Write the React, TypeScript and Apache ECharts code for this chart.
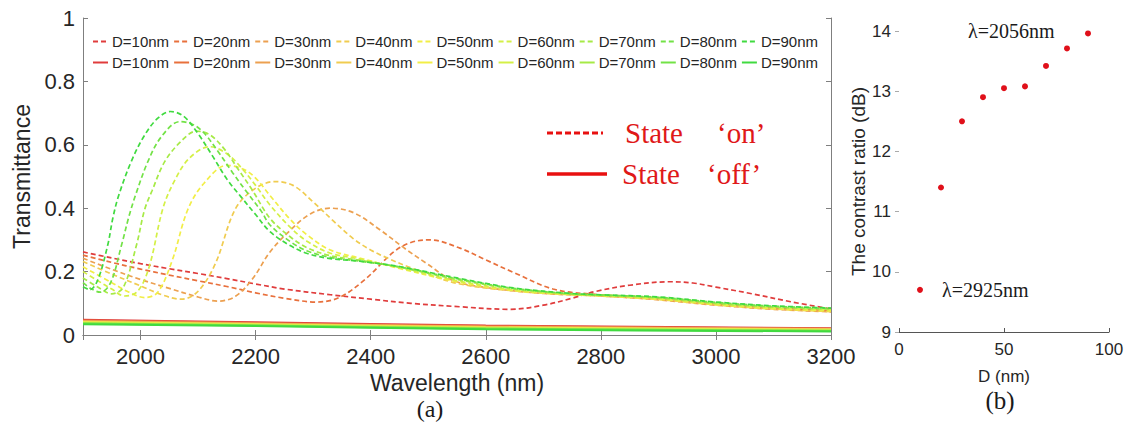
import React, { useEffect, useRef } from "react";
import * as echarts from "echarts";

// ---------- data ----------
const diameters = [10, 20, 30, 40, 50, 60, 70, 80, 90];
const seriesColors = ["#e03c3c", "#e8703c", "#eca050", "#f0cc50", "#f2ee46", "#d4f046", "#a6ea46", "#72e246", "#40da40"];

// State 'on' transmittance curves, [wavelength nm, T]
const onD10 = [[1900,0.262],[1950,0.243],[2000,0.225],[2050,0.209],[2100,0.194],[2150,0.178],[2200,0.161],[2250,0.145],[2330,0.127],[2400,0.113],[2470,0.100],[2555,0.089],[2642,0.081],[2700,0.094],[2750,0.116],[2790,0.137],[2850,0.157],[2920,0.168],[2960,0.164],[3000,0.151],[3060,0.131],[3130,0.105],[3200,0.082]];
const onD20 = [[1900,0.252],[1950,0.229],[2000,0.208],[2050,0.189],[2100,0.171],[2150,0.153],[2200,0.133],[2250,0.116],[2305,0.104],[2345,0.118],[2390,0.175],[2440,0.262],[2470,0.292],[2503,0.300],[2555,0.274],[2600,0.237],[2650,0.196],[2717,0.145],[2790,0.128],[2850,0.122],[2900,0.116],[3000,0.099],[3100,0.086],[3200,0.077]];
const onD30 = [[1900,0.242],[1950,0.207],[2000,0.175],[2050,0.147],[2100,0.120],[2135,0.107],[2165,0.122],[2195,0.178],[2225,0.262],[2260,0.330],[2295,0.382],[2329,0.400],[2370,0.386],[2416,0.332],[2460,0.272],[2497,0.226],[2543,0.172],[2600,0.150],[2700,0.131],[2800,0.123],[2900,0.111],[3000,0.094],[3100,0.081],[3200,0.073]];
const onD40 = [[1900,0.232],[1950,0.192],[2000,0.155],[2040,0.125],[2071,0.113],[2100,0.138],[2130,0.225],[2164,0.395],[2195,0.457],[2233,0.484],[2265,0.472],[2300,0.420],[2335,0.360],[2369,0.305],[2400,0.268],[2430,0.242],[2470,0.212],[2550,0.163],[2650,0.139],[2750,0.127],[2800,0.123],[2900,0.112],[3000,0.095],[3100,0.082],[3200,0.074]];
const onD50 = [[1900,0.215],[1950,0.165],[1980,0.135],[2007,0.118],[2030,0.135],[2055,0.235],[2082,0.395],[2110,0.478],[2150,0.535],[2180,0.522],[2200,0.495],[2225,0.440],[2260,0.365],[2290,0.315],[2330,0.268],[2380,0.243],[2450,0.210],[2550,0.168],[2650,0.140],[2750,0.127],[2800,0.124],[2900,0.113],[3000,0.096],[3100,0.083],[3200,0.076]];
const onD60 = [[1900,0.200],[1925,0.172],[1950,0.145],[1972,0.123],[1995,0.138],[2015,0.215],[2039,0.400],[2060,0.490],[2085,0.558],[2120,0.594],[2150,0.572],[2175,0.528],[2200,0.472],[2225,0.410],[2260,0.340],[2290,0.295],[2330,0.258],[2380,0.240],[2450,0.212],[2550,0.171],[2650,0.142],[2750,0.128],[2800,0.125],[2900,0.115],[3000,0.098],[3100,0.086],[3200,0.079]];
const onD70 = [[1900,0.180],[1925,0.152],[1950,0.130],[1970,0.150],[1993,0.284],[2007,0.395],[2020,0.455],[2042,0.547],[2071,0.612],[2097,0.643],[2120,0.632],[2145,0.588],[2170,0.522],[2195,0.455],[2225,0.368],[2260,0.310],[2290,0.275],[2330,0.250],[2380,0.236],[2450,0.214],[2550,0.175],[2650,0.145],[2750,0.129],[2800,0.126],[2900,0.117],[3000,0.100],[3100,0.088],[3200,0.081]];
const onD80 = [[1900,0.165],[1915,0.145],[1930,0.135],[1948,0.165],[1967,0.284],[1980,0.375],[1992,0.445],[2013,0.548],[2036,0.625],[2068,0.673],[2090,0.665],[2110,0.638],[2135,0.578],[2160,0.512],[2185,0.450],[2210,0.390],[2225,0.347],[2260,0.295],[2290,0.265],[2330,0.245],[2380,0.233],[2450,0.215],[2550,0.178],[2650,0.147],[2750,0.130],[2800,0.126],[2900,0.119],[3000,0.103],[3100,0.091],[3200,0.084]];
const onD90 = [[1900,0.152],[1912,0.143],[1926,0.175],[1943,0.284],[1952,0.370],[1962,0.440],[1984,0.548],[2007,0.630],[2030,0.684],[2052,0.705],[2075,0.690],[2100,0.635],[2125,0.565],[2150,0.492],[2175,0.435],[2200,0.380],[2225,0.326],[2260,0.282],[2290,0.257],[2330,0.241],[2380,0.233],[2450,0.216],[2550,0.180],[2650,0.148],[2750,0.131],[2800,0.127],[2900,0.120],[3000,0.104],[3100,0.092],[3200,0.085]];
const onCurves = [onD10, onD20, onD30, onD40, onD50, onD60, onD70, onD80, onD90];

// State 'off' transmittance, sampled at offWavelengths
const offWavelengths = [1900, 2200, 2600, 3200];
const offD10 = [0.048, 0.040, 0.030, 0.021];
const offD20 = [0.046, 0.038, 0.028, 0.020];
const offD30 = [0.044, 0.036, 0.026, 0.019];
const offD40 = [0.042, 0.035, 0.025, 0.018];
const offD50 = [0.040, 0.033, 0.023, 0.016];
const offD60 = [0.039, 0.032, 0.022, 0.015];
const offD70 = [0.037, 0.031, 0.021, 0.014];
const offD80 = [0.036, 0.030, 0.020, 0.013];
const offD90 = [0.034, 0.028, 0.018, 0.011];
const offCurves = [offD10, offD20, offD30, offD40, offD50, offD60, offD70, offD80, offD90];

// Contrast ratio (panel b)
const contrastD = [10, 20, 30, 40, 50, 60, 70, 80, 90];
const contrastDb = [9.70, 11.40, 12.50, 12.90, 13.05, 13.08, 13.42, 13.71, 13.96];

const SANS = "'Liberation Sans', Arial, sans-serif";
const SERIF = "'Liberation Serif', 'Times New Roman', serif";
const TXT = "#262626";
const AX = "#7f7f7f";

export default function App() {
  const ref = useRef<HTMLDivElement>(null);
  useEffect(() => {
    if (!ref.current) return;
    const chart = echarts.init(ref.current, null, { renderer: "svg" });

    const onNames = diameters.map((d) => `on ${d}`);
    const offNames = diameters.map((d) => `off ${d}`);

    const series: any[] = [];
    diameters.forEach((d, i) => {
      series.push({
        name: onNames[i],
        type: "line",
        xAxisIndex: 0,
        yAxisIndex: 0,
        data: onCurves[i],
        smooth: 0.35,
        symbol: "none",
        lineStyle: { color: seriesColors[i], width: 1.7, type: [5, 3] },
        itemStyle: { color: seriesColors[i] },
        z: 3,
      });
    });
    diameters.forEach((d, i) => {
      series.push({
        name: offNames[i],
        type: "line",
        xAxisIndex: 0,
        yAxisIndex: 0,
        data: offWavelengths.map((w, k) => [w, offCurves[i][k]]),
        smooth: 0.3,
        symbol: "none",
        lineStyle: { color: seriesColors[i], width: 2, type: "solid" },
        itemStyle: { color: seriesColors[i] },
        z: 2,
      });
    });
    series.push({
      name: "contrast",
      type: "scatter",
      xAxisIndex: 2,
      yAxisIndex: 2,
      data: contrastD.map((d, i) => [d, contrastDb[i]]),
      symbolSize: 6,
      itemStyle: { color: "#e0101a", opacity: 1 },
    });

    const legendCommon = {
      orient: "horizontal",
      left: 92,
      itemWidth: 15,
      itemHeight: 14,
      itemGap: 4,
      padding: 0,
      itemStyle: { color: "rgba(0,0,0,0)", borderColor: "rgba(0,0,0,0)", borderWidth: 0, opacity: 0 },
      textStyle: { fontSize: 15, color: TXT, fontFamily: SANS, padding: [0, 0, 0, -1] },
      formatter: (name: string) => "D=" + name.split(" ")[1] + "nm",
      selectedMode: false,
    };

    const option: any = {
      animation: false,
      backgroundColor: "#ffffff",
      textStyle: { fontFamily: SANS },
      legend: [
        { ...legendCommon, top: 34, data: onNames },
        { ...legendCommon, top: 55, data: offNames },
      ],
      grid: [
        { left: 83, top: 18, width: 748, height: 317 },
        { left: 899, top: 31, width: 210, height: 301 },
      ],
      xAxis: [
        {
          gridIndex: 0,
          type: "value",
          min: 1900,
          max: 3200,
          splitNumber: 7,
          position: "bottom",
          axisLine: { lineStyle: { color: AX, width: 1 } },
          axisTick: { inside: true, length: 5, lineStyle: { color: AX } },
          axisLabel: {
            fontSize: 22,
            color: TXT,
            margin: 10,
            fontFamily: SANS,
            formatter: (v: number) => (v === 1900 ? "" : String(v)),
          },
          splitLine: { show: false },
          name: "Wavelength (nm)",
          nameLocation: "middle",
          nameGap: 34,
          nameTextStyle: { fontSize: 23, color: TXT, fontFamily: SANS },
        },
        {
          gridIndex: 0,
          type: "value",
          min: 1900,
          max: 3200,
          splitNumber: 7,
          position: "top",
          axisLine: { lineStyle: { color: AX, width: 1 } },
          axisTick: { inside: true, length: 5, lineStyle: { color: AX } },
          axisLabel: { show: false },
          splitLine: { show: false },
        },
        {
          gridIndex: 1,
          type: "value",
          min: 0,
          max: 100,
          interval: 50,
          axisLine: { lineStyle: { color: "#555555", width: 1 } },
          axisTick: { inside: true, length: 4, lineStyle: { color: "#555555" } },
          axisLabel: { fontSize: 17, color: TXT, margin: 9, fontFamily: SANS },
          splitLine: { show: false },
          name: "D (nm)",
          nameLocation: "middle",
          nameGap: 36,
          nameTextStyle: { fontSize: 17, color: TXT, fontFamily: SANS },
        },
      ],
      yAxis: [
        {
          gridIndex: 0,
          type: "value",
          min: 0,
          max: 1,
          interval: 0.2,
          position: "left",
          axisLine: { show: true, lineStyle: { color: AX, width: 1 } },
          axisTick: { show: true, inside: true, length: 5, lineStyle: { color: AX } },
          axisLabel: { fontSize: 22, color: TXT, margin: 8, fontFamily: SANS },
          splitLine: { show: false },
          name: "Transmittance",
          nameLocation: "middle",
          nameGap: 50,
          nameTextStyle: { fontSize: 23, color: TXT, fontFamily: SANS },
        },
        {
          gridIndex: 0,
          type: "value",
          min: 0,
          max: 1,
          interval: 0.2,
          position: "right",
          axisLine: { show: true, lineStyle: { color: AX, width: 1 } },
          axisTick: { show: true, inside: true, length: 5, lineStyle: { color: AX } },
          axisLabel: { show: false },
          splitLine: { show: false },
        },
        {
          gridIndex: 1,
          type: "value",
          min: 9,
          max: 14,
          interval: 1,
          axisLine: { show: false },
          axisTick: { show: true, length: 4, lineStyle: { color: "#aaaaaa" } },
          axisLabel: { fontSize: 17, color: TXT, margin: 8, fontFamily: SANS },
          splitLine: { show: false },
          name: "The contrast ratio (dB)",
          nameLocation: "middle",
          nameGap: 28,
          nameTextStyle: { fontSize: 19, color: TXT, fontFamily: SANS },
        },
      ],
      graphic: [
        { type: "line", shape: { x1: 547, y1: 133, x2: 603, y2: 133 }, style: { stroke: "#e81010", lineWidth: 3, lineDash: [6, 3] } },
        { type: "text", x: 625, y: 133, style: { text: "State", font: `29px ${SERIF}`, fill: "#e01818", verticalAlign: "middle" } },
        { type: "text", x: 717, y: 133, style: { text: "‘on’", font: `29px ${SERIF}`, fill: "#e01818", verticalAlign: "middle" } },
        { type: "line", shape: { x1: 547, y1: 174, x2: 607, y2: 174 }, style: { stroke: "#e81010", lineWidth: 3.5 } },
        { type: "text", x: 622, y: 174, style: { text: "State", font: `29px ${SERIF}`, fill: "#e01818", verticalAlign: "middle" } },
        { type: "text", x: 707, y: 174, style: { text: "‘off’", font: `29px ${SERIF}`, fill: "#e01818", verticalAlign: "middle" } },
        { type: "text", x: 968, y: 31, style: { text: "λ=2056nm", font: `20px ${SERIF}`, fill: "#1a1a1a", verticalAlign: "middle" } },
        { type: "text", x: 942, y: 290, style: { text: "λ=2925nm", font: `20px ${SERIF}`, fill: "#1a1a1a", verticalAlign: "middle" } },
        { type: "text", x: 430, y: 409, style: { text: "(a)", font: `24px ${SERIF}`, fill: "#1a1a1a", align: "center", verticalAlign: "middle" } },
        { type: "text", x: 1000, y: 400, style: { text: "(b)", font: `25px ${SERIF}`, fill: "#1a1a1a", align: "center", verticalAlign: "middle" } },
      ],
      series,
    };

    chart.setOption(option);
    return () => chart.dispose();
  }, []);

  return (
    <div
      ref={ref}
      style={{ position: "fixed", left: 0, top: 0, width: 1128, height: 424, background: "#fff" }}
    />
  );
}
